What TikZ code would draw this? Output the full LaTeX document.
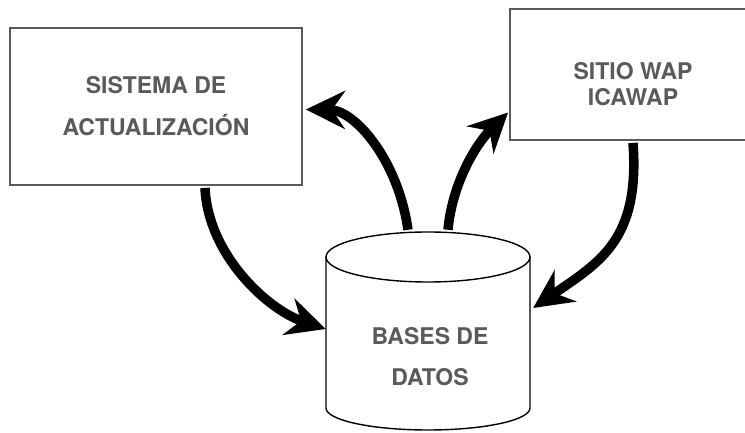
\documentclass[tikz,border=0pt]{standalone}
\usepackage{fontspec}
\setmainfont{TeX Gyre Heros}
\usetikzlibrary{arrows.meta}
\definecolor{txtgray}{HTML}{5A5A5A}
\definecolor{boxgray}{HTML}{5A5A5A}
\begin{document}
\begin{tikzpicture}[x=1pt,y=1pt,
  boxstyle/.style={draw=boxgray,line width=1.8pt,inner sep=0pt},
  lbl/.style={text=txtgray,align=center,font=\fontsize{23}{42}\selectfont\bfseries},
  cyl/.style={draw=black,line width=1.4pt},
  flow/.style={line width=9.5pt,-{Stealth[length=39pt,width=38pt,inset=13pt]}}
]
\useasboundingbox (0,0) rectangle (745,433);
\clip (0,0) rectangle (745,433);
\fill[white] (0,0) rectangle (745,433);
% boxes
\node[boxstyle,lbl,minimum width=292pt,minimum height=157pt] (sis) at (156,326.5) {SISTEMA DE\\ACTUALIZACIÓN};
\node[boxstyle,minimum width=238pt,minimum height=131pt] (wap) at (629,358.5) {};
\node[lbl,font=\fontsize{23}{26}\selectfont\bfseries] (waptext) at (633,348.5) {SITIO WAP\\ICAWAP};
% database cylinder
\draw[cyl] (326,176) -- (326,25) arc[start angle=180,end angle=360,x radius=102pt,y radius=22pt] -- (530,176);
\draw[cyl] (428,176) ellipse[x radius=102pt,y radius=25pt];
\node[minimum width=204pt,minimum height=198pt,inner sep=0pt] (dbshape) at (428,102) {};
\node[lbl,font=\fontsize{23}{41}\selectfont\bfseries] (db) at (430,76) {BASES DE\\DATOS};
% connectors
\draw[flow] ([xshift=49pt,yshift=-2pt]sis.south) .. controls (208,178) and (268,123) .. ([yshift=2pt]dbshape.west);
\draw[flow] ([xshift=-20pt,yshift=2pt]dbshape.north) .. controls (398,273) and (355,323) .. ([xshift=3pt,yshift=-3pt]sis.east);
\draw[flow] ([xshift=20pt,yshift=2pt]dbshape.north) .. controls (452,248) and (475,288) .. ([xshift=-1pt,yshift=-38pt]wap.west);
\draw[flow] ([xshift=4pt,yshift=-2pt]wap.south) .. controls (640,193) and (600,171) .. ([xshift=3pt,yshift=23pt]dbshape.east);
\end{tikzpicture}
\end{document}
